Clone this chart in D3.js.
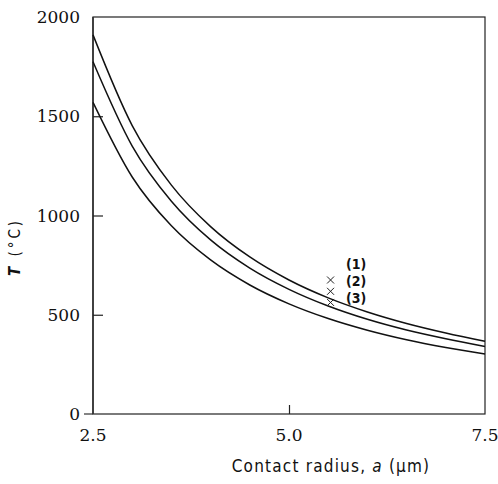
<!DOCTYPE html>
<html>
<head>
<meta charset="utf-8">
<script src="https://cdn.jsdelivr.net/npm/d3@7"></script>
<style>
  body { margin: 0; background: #fff; }
  svg { display: block; }
  .serif { font-family: 'DejaVu Serif', 'Liberation Serif', serif; }
</style>
</head>
<body>
<div id="chart"></div>
<script>
// contact radius (um)
const radius = [2.5, 3.0, 3.5, 4.0, 4.5, 5.0, 5.5, 6.0, 6.5, 7.0, 7.5];
// temperature curves (deg C)
const curve1 = [1910, 1453, 1153, 944, 791, 675, 585, 514, 456, 408, 366];
const curve2 = [1775, 1350, 1072, 877, 735, 628, 544, 477, 423, 379, 340];
const curve3 = [1570, 1194, 948, 776, 650, 555, 481, 422, 374, 335, 302];
// measured points (x marks)
const markX = [5.53, 5.53, 5.53];
const markT = [675, 618, 562];
const curveLabels = ["(1)", "(2)", "(3)"];
const xTicks = [2.5, 5.0, 7.5];
const yTicks = [0, 500, 1000, 1500, 2000];

const width = 498, height = 484;
const margin = { left: 93, right: 13, top: 17, bottom: 70 };
const sans = '"DejaVu Sans Condensed", "DejaVu Sans", sans-serif';

const svg = d3.select("#chart").append("svg")
  .attr("width", width)
  .attr("height", height);

const x = d3.scaleLinear().domain([2.5, 7.5]).range([margin.left, width - margin.right]);
const y = d3.scaleLinear().domain([0, 2000]).range([height - margin.bottom, margin.top]);

// frame
svg.append("rect")
  .attr("x", x(2.5)).attr("y", y(2000))
  .attr("width", x(7.5) - x(2.5)).attr("height", y(0) - y(2000))
  .attr("fill", "none").attr("stroke", "#222").attr("stroke-width", 1.2);

// left axis slightly heavier
svg.append("line")
  .attr("x1", x(2.5)).attr("x2", x(2.5))
  .attr("y1", y(0)).attr("y2", y(2000))
  .attr("stroke", "#333").attr("stroke-width", 1.6);

// bottom axis extends a bit to the left
svg.append("line")
  .attr("x1", x(2.5) - 9).attr("x2", x(2.5))
  .attr("y1", y(0)).attr("y2", y(0))
  .attr("stroke", "#333").attr("stroke-width", 1.2);

// inward ticks
const yAxis = d3.axisRight(y).tickValues([500, 1000, 1500]).tickSize(10).tickFormat("");
svg.append("g")
  .attr("transform", `translate(${x(2.5)},0)`)
  .call(yAxis)
  .call(g => g.select(".domain").remove())
  .call(g => g.selectAll("line").attr("stroke", "#222").attr("stroke-width", 1.2));

const xAxis = d3.axisTop(x).tickValues([5.0]).tickSize(9).tickFormat("");
svg.append("g")
  .attr("transform", `translate(0,${y(0)})`)
  .call(xAxis)
  .call(g => g.select(".domain").remove())
  .call(g => g.selectAll("line").attr("stroke", "#222").attr("stroke-width", 1.2));

// tick labels
svg.selectAll(".ylab").data(yTicks).enter().append("text")
  .attr("class", "serif")
  .attr("x", x(2.5) - 13)
  .attr("y", d => y(d) + 6)
  .attr("text-anchor", "end")
  .attr("font-size", 17)
  .attr("fill", "#111")
  .text(d => d);

svg.selectAll(".xlab").data(xTicks).enter().append("text")
  .attr("class", "serif")
  .attr("x", d => x(d))
  .attr("y", y(0) + 27)
  .attr("text-anchor", "middle")
  .attr("font-size", 17)
  .attr("fill", "#111")
  .text(d => d.toFixed(1));

// curves
const line = d3.line()
  .x((d, i) => x(radius[i]))
  .y(d => y(d))
  .curve(d3.curveMonotoneX);

[curve1, curve2, curve3].forEach(c => {
  svg.append("path")
    .datum(c)
    .attr("d", line)
    .attr("fill", "none")
    .attr("stroke", "#111")
    .attr("stroke-width", 1.5);
});

// x marks
const s = 3.5;
markX.forEach((mx, i) => {
  const cx = x(mx), cy = y(markT[i]);
  svg.append("path")
    .attr("d", `M${cx - s},${cy - s}L${cx + s},${cy + s}M${cx - s},${cy + s}L${cx + s},${cy - s}`)
    .attr("stroke", "#222").attr("stroke-width", 1);
});

// curve labels
curveLabels.forEach((t, i) => {
  svg.append("text")
    .attr("x", 346)
    .attr("y", 269 + i * 17)
    .attr("font-family", sans)
    .attr("font-size", 14)
    .attr("font-weight", "bold")
    .attr("fill", "#111")
    .text(t);
});

// axis titles
svg.append("text")
  .attr("x", 331)
  .attr("y", 472)
  .attr("text-anchor", "middle")
  .attr("font-family", sans)
  .attr("font-size", 17)
  .attr("letter-spacing", 1.2)
  .attr("fill", "#111")
  .html('Contact radius, <tspan font-style="italic">a</tspan> (μm)');

svg.append("text")
  .attr("transform", `translate(20,247) rotate(-90)`)
  .attr("text-anchor", "middle")
  .attr("font-family", sans)
  .attr("font-size", 15)
  .attr("letter-spacing", 3)
  .attr("fill", "#111")
  .html('<tspan font-style="italic" font-weight="bold">T</tspan> (°C)');
</script>
</body>
</html>
